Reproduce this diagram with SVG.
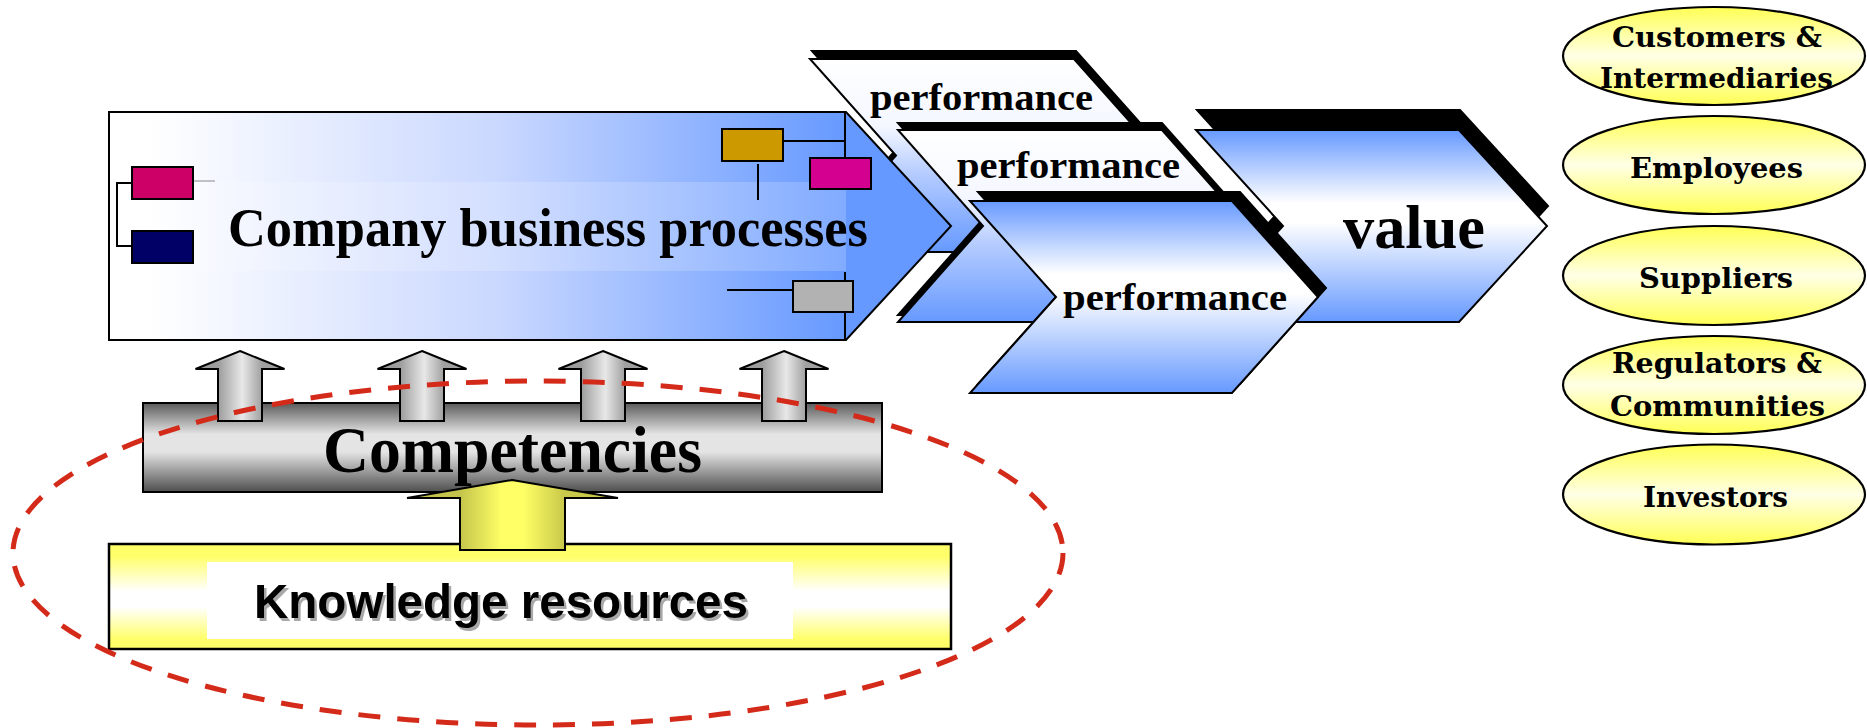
<svg xmlns="http://www.w3.org/2000/svg" width="1867" height="728" viewBox="0 0 1867 728">
  <style>
    .serif{font-family:"Liberation Serif","Times New Roman",serif;font-weight:bold;fill:#000}
    .stk{font-family:"DejaVu Serif","Liberation Serif",serif;font-weight:bold;font-size:28px;fill:#000;text-anchor:middle}
    .outline{stroke:#000;stroke-width:2;stroke-linejoin:miter}
    .shadow{fill:#000;stroke:#000;stroke-width:2;stroke-linejoin:miter}
    .perf{font-size:37px}
    .box{stroke:#000;stroke-width:2}
    .wire{stroke:#000;stroke-width:2;fill:none}
    .ell{fill:url(#gStake);stroke:#000;stroke-width:2.2}
  </style>
  <defs>
    <linearGradient id="gProc" gradientUnits="userSpaceOnUse" x1="150" y1="0" x2="846" y2="0">
      <stop offset="0" stop-color="#FFFFFF"/>
      <stop offset="0.5" stop-color="#CAD8FF"/>
      <stop offset="1" stop-color="#6699FF"/>
    </linearGradient>
    <linearGradient id="gFade" x1="0" y1="0" x2="0" y2="1">
      <stop offset="0" stop-color="#FFFFFF"/>
      <stop offset="0.35" stop-color="#F4F7FF"/>
      <stop offset="0.6" stop-color="#B4CBFF"/>
      <stop offset="1" stop-color="#6699FF"/>
    </linearGradient>
    <linearGradient id="gMirror" x1="0" y1="0" x2="0" y2="1">
      <stop offset="0" stop-color="#6699FF"/>
      <stop offset="0.38" stop-color="#FFFFFF"/>
      <stop offset="0.48" stop-color="#FFFFFF"/>
      <stop offset="1" stop-color="#6699FF"/>
    </linearGradient>
    <linearGradient id="gSteel" x1="0" y1="0" x2="0" y2="1">
      <stop offset="0" stop-color="#5A5A5A"/>
      <stop offset="0.35" stop-color="#E4E4E4"/>
      <stop offset="0.55" stop-color="#E4E4E4"/>
      <stop offset="1" stop-color="#4E4E4E"/>
    </linearGradient>
    <linearGradient id="gArrow" gradientUnits="userSpaceOnUse" x1="-22" y1="0" x2="22" y2="0">
      <stop offset="0" stop-color="#9C9C9C"/>
      <stop offset="0.55" stop-color="#E8E8E8"/>
      <stop offset="1" stop-color="#A0A0A0"/>
    </linearGradient>
    <linearGradient id="gKnow" x1="0" y1="0" x2="0" y2="1">
      <stop offset="0" stop-color="#FFFF66"/>
      <stop offset="0.12" stop-color="#FFFF6C"/>
      <stop offset="0.45" stop-color="#FFFFFF"/>
      <stop offset="0.6" stop-color="#FFFFFF"/>
      <stop offset="0.9" stop-color="#FFFF6C"/>
      <stop offset="1" stop-color="#FFFF66"/>
    </linearGradient>
    <linearGradient id="gYArrow" gradientUnits="userSpaceOnUse" x1="460" y1="0" x2="565" y2="0">
      <stop offset="0" stop-color="#C4C44C"/>
      <stop offset="0.4" stop-color="#FFFF66"/>
      <stop offset="0.6" stop-color="#FFFF66"/>
      <stop offset="1" stop-color="#C8C84A"/>
    </linearGradient>
    <linearGradient id="gStake" x1="0" y1="0" x2="0" y2="1">
      <stop offset="0" stop-color="#FFFF55"/>
      <stop offset="0.5" stop-color="#FFFFE6"/>
      <stop offset="1" stop-color="#FFFF55"/>
    </linearGradient>
  </defs>

  <rect width="1867" height="728" fill="#FFFFFF"/>

  <!-- back performance chevron -->
  <g id="performance-1">
    <polygon class="shadow" transform="translate(2,-8)" points="810,59 1074,59 1160,155.5 1074,252 810,252 896,155.5"/>
    <polygon class="outline" fill="url(#gFade)" points="810,59 1074,59 1160,155.5 1074,252 810,252 896,155.5"/>
    <text class="serif perf" x="870" y="110" textLength="223" lengthAdjust="spacingAndGlyphs">performance</text>
  </g>

  <!-- company business processes block -->
  <g id="business-processes">
    <polygon class="outline" fill="url(#gProc)" points="109,112 846,112 951,226 846,340 109,340"/>
    <rect x="196" y="182" width="650" height="89" fill="#FFFFFF" fill-opacity="0.18"/>
    <path class="wire" d="M132,183 H117 V246 H132"/>
    <path d="M193,181 H215" stroke="#888" stroke-width="1"/>
    <rect class="box" x="132" y="167" width="61" height="32" fill="#CC0066"/>
    <rect class="box" x="132" y="231" width="61" height="32" fill="#000066"/>
    <path class="wire" d="M783,141 H845 M845,112 V158 M758,164 V200 M727,290 H793 M845,272 V340"/>
    <rect class="box" x="722" y="129" width="61" height="32" fill="#CC9900"/>
    <rect class="box" x="810" y="158" width="61" height="31" fill="#D40090"/>
    <rect class="box" x="793" y="281" width="60" height="31" fill="#B2B2B2"/>
    <text class="serif" x="228" y="246" font-size="54" textLength="640" lengthAdjust="spacingAndGlyphs">Company business processes</text>
  </g>

  <g id="performance-2">
    <polygon class="shadow" transform="translate(0,-7)" points="898,130 1162,130 1247,226 1162,322 898,322 983,226"/>
    <polygon class="outline" fill="url(#gFade)" points="898,130 1162,130 1247,226 1162,322 898,322 983,226"/>
    <text class="serif perf" x="957" y="178" textLength="223" lengthAdjust="spacingAndGlyphs">performance</text>
  </g>

  <g id="value">
    <polygon class="shadow" transform="translate(1,-20)" points="1196,130 1459,130 1547,226 1459,322 1196,322 1283,226"/>
    <polygon class="outline" fill="url(#gMirror)" points="1196,130 1459,130 1547,226 1459,322 1196,322 1283,226"/>
    <text class="serif" x="1343" y="248" font-size="62" textLength="142" lengthAdjust="spacingAndGlyphs">value</text>
  </g>

  <g id="performance-3">
    <polygon class="shadow" transform="translate(8,-9)" points="970,201 1232,201 1318,297 1232,393 970,393 1056,297"/>
    <polygon class="outline" fill="url(#gMirror)" points="970,201 1232,201 1318,297 1232,393 970,393 1056,297"/>
    <text class="serif perf" x="1063" y="310" textLength="224" lengthAdjust="spacingAndGlyphs">performance</text>
  </g>

  <g id="competencies">
    <rect class="box" x="143" y="403" width="739" height="89" fill="url(#gSteel)"/>
    <text class="serif" x="323" y="472" font-size="66" textLength="379" lengthAdjust="spacingAndGlyphs">Competencies</text>
  </g>

  <g id="knowledge-resources">
    <rect x="109" y="544" width="842" height="105" fill="url(#gKnow)" stroke="#000" stroke-width="2.5"/>
    <rect x="207" y="562" width="586" height="77" fill="#FFFFFF"/>
    <text x="256.5" y="620.5" font-family="'Liberation Sans',Arial,sans-serif" font-weight="bold" font-size="49" fill="#A8A8A8" textLength="494" lengthAdjust="spacingAndGlyphs">Knowledge resources</text>
    <text x="254" y="618" font-family="'Liberation Sans',Arial,sans-serif" font-weight="bold" font-size="49" fill="#000" textLength="494" lengthAdjust="spacingAndGlyphs">Knowledge resources</text>
  </g>

  <!-- upward block arrows -->
  <g id="connectors">
    <g transform="translate(240,0)"><polygon class="outline" fill="url(#gArrow)" points="0,351 44.5,369 22,369 22,421 -22,421 -22,369 -44.5,369"/></g>
    <g transform="translate(422,0)"><polygon class="outline" fill="url(#gArrow)" points="0,351 44.5,369 22,369 22,421 -22,421 -22,369 -44.5,369"/></g>
    <g transform="translate(603,0)"><polygon class="outline" fill="url(#gArrow)" points="0,351 44.5,369 22,369 22,421 -22,421 -22,369 -44.5,369"/></g>
    <g transform="translate(784,0)"><polygon class="outline" fill="url(#gArrow)" points="0,351 44.5,369 22,369 22,421 -22,421 -22,369 -44.5,369"/></g>
    <polygon class="outline" fill="url(#gYArrow)" points="512,480 618,498 565,498 565,550 460,550 460,498 407,498"/>
  </g>

  <!-- dashed boundary around the knowledge base -->
  <ellipse id="knowledge-boundary" cx="538" cy="553" rx="525" ry="172" fill="none" stroke="#D42A1A" stroke-width="5" stroke-dasharray="22 17"/>

  <g id="stakeholder-customers">
    <ellipse class="ell" cx="1714" cy="56" rx="151" ry="49"/>
    <text class="stk" x="1717" y="46.5" textLength="210" lengthAdjust="spacingAndGlyphs">Customers &amp;</text>
    <text class="stk" x="1716.5" y="87.5" textLength="233" lengthAdjust="spacingAndGlyphs">Intermediaries</text>
  </g>
  <g id="stakeholder-employees">
    <ellipse class="ell" cx="1714" cy="165" rx="151" ry="49"/>
    <text class="stk" x="1716.5" y="177.5" textLength="173" lengthAdjust="spacingAndGlyphs">Employees</text>
  </g>
  <g id="stakeholder-suppliers">
    <ellipse class="ell" cx="1714" cy="275.5" rx="151" ry="49.5"/>
    <text class="stk" x="1716" y="287.5" textLength="154" lengthAdjust="spacingAndGlyphs">Suppliers</text>
  </g>
  <g id="stakeholder-regulators">
    <ellipse class="ell" cx="1714" cy="385" rx="151" ry="49"/>
    <text class="stk" x="1717" y="373" textLength="210" lengthAdjust="spacingAndGlyphs">Regulators &amp;</text>
    <text class="stk" x="1717.5" y="416" textLength="215" lengthAdjust="spacingAndGlyphs">Communities</text>
  </g>
  <g id="stakeholder-investors">
    <ellipse class="ell" cx="1714" cy="494.5" rx="151" ry="50"/>
    <text class="stk" x="1715.5" y="507" textLength="145" lengthAdjust="spacingAndGlyphs">Investors</text>
  </g>
</svg>
